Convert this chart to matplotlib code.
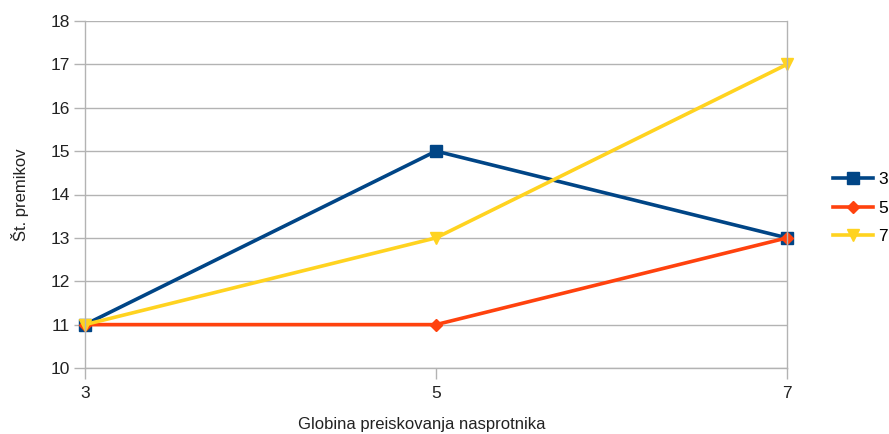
import matplotlib.pyplot as plt

plt.rcParams['font.family'] = ['Liberation Sans', 'DejaVu Sans']

# Data
depth = [3, 5, 7]
series_names = ['3', '5', '7']
awards_3 = [11, 15, 13]
awards_5 = [11, 11, 13]
awards_7 = [11, 13, 17]

colors = ['#004586', '#ff420e', '#ffd320']
markers = ['s', 'D', 'v']
sizes = [8, 6.5, 9]

fig = plt.figure(figsize=(8.89, 4.34), dpi=100)
ax = fig.add_axes([85 / 889, 66 / 434, 702 / 889, 347 / 434])

for vals, name, c, m, ms in zip([awards_3, awards_5, awards_7], series_names, colors, markers, sizes):
    ax.plot(depth, vals, color=c, marker=m, markersize=ms, linewidth=2.6,
            label=name, clip_on=False)

ax.set_xlim(3, 7)
ax.set_ylim(10, 18)
ax.set_xticks(depth)
ax.set_yticks(range(10, 19))
ax.yaxis.grid(True, color='#b3b3b3', linewidth=1)
ax.set_axisbelow(True)

ax.spines['top'].set_visible(False)
for side in ['left', 'right', 'bottom']:
    ax.spines[side].set_color('#b3b3b3')
    ax.spines[side].set_linewidth(1)

ax.tick_params(axis='both', colors='#b3b3b3', length=8, width=1, labelcolor='#222222',
               labelsize=12.5, pad=3)
ax.tick_params(axis='x', pad=5)

ax.set_xlabel('Globina preiskovanja nasprotnika', fontsize=12, color='#222222')
ax.xaxis.set_label_coords(0.479, -0.142)
ax.set_ylabel('Št. premikov', fontsize=12, color='#222222', labelpad=15)

ax.legend(loc='center left', bbox_to_anchor=(833 / 889, (434 - 208) / 434),
          bbox_transform=fig.transFigure, frameon=False, fontsize=12.5,
          borderpad=0, borderaxespad=0,
          handlelength=2.3, handletextpad=0.3, labelspacing=0.75)

fig.savefig('out.png', dpi=100)
